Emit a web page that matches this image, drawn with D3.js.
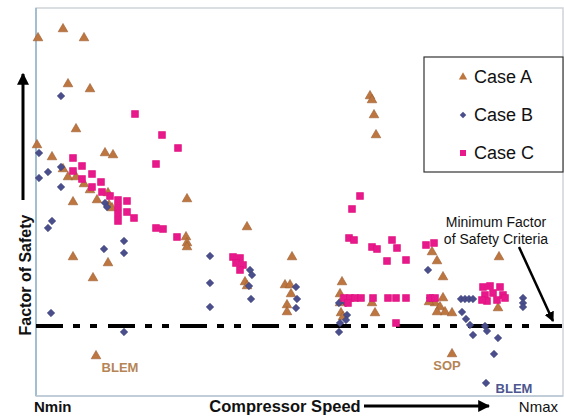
<!DOCTYPE html>
<html>
<head>
<meta charset="utf-8">
<script src="https://cdn.jsdelivr.net/npm/d3@7"></script>
<style>
  body { margin: 0; background: #fff; }
  svg { display: block; font-family: Arial, "Liberation Sans", sans-serif; }
</style>
</head>
<body>
<svg id="chart" width="564" height="418"></svg>
<script>
// Speed in arbitrary units (Nmin = 0, Nmax = 520), factor of safety relative to the criteria (= 1).
const caseA = [
  [2, 3.88], [27, 3.97], [48, 3.88], [32, 3.42], [54, 3.37], [40, 2.97], [1, 2.81],
  [16, 2.69], [69, 2.73], [77, 2.71], [151, 2.27], [27, 2.57], [32, 2.49], [40, 2.49],
  [48, 2.42], [54, 2.36], [61, 2.26], [72, 2.33], [73, 2.21], [76, 2.18], [37, 2.24],
  [150, 1.89], [151, 1.83], [151, 1.79], [37, 1.69], [72, 1.63], [57, 1.48], [60, 0.70],
  [211, 1.99], [209, 1.44], [211, 1.40], [256, 1.69], [249, 1.41], [254, 1.41], [255, 1.32],
  [251, 1.21], [251, 1.14], [334, 3.30], [336, 3.26], [338, 3.11], [340, 2.91], [306, 1.44],
  [304, 1.32], [304, 1.23], [305, 1.13], [307, 1.09], [336, 1.23], [339, 1.13], [396, 1.74],
  [401, 1.65], [407, 1.49], [463, 1.69], [399, 1.23], [407, 1.28], [404, 1.19], [409, 1.14],
  [401, 1.14], [416, 1.13], [393, 1.24], [416, 0.72], [462, 1.18]
];
const caseB = [
  [25, 3.30], [3, 2.73], [3, 2.48], [12, 2.54], [25, 2.59], [25, 2.39], [69, 2.23],
  [71, 2.19], [16, 2.05], [12, 1.98], [88, 1.85], [68, 1.77], [88, 1.73], [15, 1.13],
  [88, 0.94], [174, 1.70], [174, 1.43], [174, 1.19], [214, 1.56], [216, 1.51], [213, 1.40],
  [215, 1.27], [260, 1.39], [261, 1.27], [260, 1.18], [303, 1.23], [310, 1.23], [311, 1.11],
  [310, 1.06], [304, 1.03], [303, 0.94], [394, 1.28], [392, 1.56], [425, 1.27], [429, 1.27],
  [433, 1.27], [437, 1.27], [426, 1.14], [430, 1.07], [434, 1.01], [437, 0.91], [449, 1.00],
  [451, 0.95], [462, 0.88], [458, 0.72], [450, 0.43], [487, 1.28], [487, 1.23], [487, 1.19]
];
const caseC = [
  [99, 3.12], [126, 2.91], [142, 2.78], [120, 2.62], [37, 2.68], [46, 2.60], [37, 2.55],
  [56, 2.52], [46, 2.47], [65, 2.44], [56, 2.39], [66, 2.34], [74, 2.30], [82, 2.26],
  [82, 2.19], [82, 2.12], [82, 2.05], [91, 2.25], [91, 2.14], [98, 2.08], [120, 1.98],
  [127, 1.97], [141, 1.89], [197, 1.69], [204, 1.68], [200, 1.63], [207, 1.61], [204, 1.56],
  [324, 2.30], [316, 2.17], [313, 1.88], [318, 1.86], [336, 1.79], [341, 1.77], [356, 1.86],
  [361, 1.78], [351, 1.65], [370, 1.66], [390, 1.81], [398, 1.83], [308, 1.28], [314, 1.28],
  [319, 1.28], [325, 1.28], [337, 1.28], [352, 1.28], [360, 1.28], [370, 1.28], [394, 1.28],
  [399, 1.28], [360, 1.03], [312, 1.23], [447, 1.39], [454, 1.40], [464, 1.39], [449, 1.31],
  [457, 1.33], [467, 1.31], [451, 1.25], [461, 1.26], [469, 1.28], [446, 1.26]
];
const seriesNames = ['Case A', 'Case B', 'Case C'];
const criteria = 1.0;
// text labels placed at data positions
const notes = [
  {text: 'BLEM', x: 84, y: 0.59, color: '#b58556'},
  {text: 'SOP', x: 411, y: 0.61, color: '#b58556'},
  {text: 'BLEM', x: 478, y: 0.38, color: '#4d5690'}
];

const svg = d3.select('#chart');
const plot = {left: 36, right: 563, top: 8, bottom: 396};

const x = d3.scaleLinear().domain([0, 520]).range([36, 556]);
const y = d3.scaleLinear().domain([0.3, 4.18]).range([plot.bottom, plot.top]);

const styles = [
  {shape: d3.symbolTriangle, size: 40, fill: '#bd7640', stroke: '#9c5c30'},
  {shape: d3.symbolDiamond2, size: 36, fill: '#4a4f8c', stroke: '#3a3f78'},
  {shape: d3.symbolSquare, size: 48, fill: '#e8198a', stroke: '#e0107f'}
];

svg.append('defs').append('marker')
    .attr('id', 'head')
    .attr('viewBox', '0 0 10 10')
    .attr('refX', 9).attr('refY', 5)
    .attr('markerWidth', 4).attr('markerHeight', 4)
    .attr('orient', 'auto')
  .append('path')
    .attr('d', 'M0,0 L10,5 L0,10 Z')
    .attr('fill', '#000');

// frame
svg.append('rect')
    .attr('x', plot.left).attr('y', plot.top)
    .attr('width', plot.right - plot.left).attr('height', plot.bottom - plot.top)
    .attr('fill', 'none').attr('stroke', '#cfd3d8').attr('stroke-width', 1.5);
svg.append('line')
    .attr('x1', plot.left).attr('x2', plot.left)
    .attr('y1', plot.top).attr('y2', plot.bottom)
    .attr('stroke', '#8fb3cc').attr('stroke-width', 1.5);
svg.append('line')
    .attr('x1', plot.left).attr('x2', plot.right)
    .attr('y1', plot.bottom).attr('y2', plot.bottom)
    .attr('stroke', '#b9c9d6').attr('stroke-width', 1.5);

// criteria line
svg.append('line')
    .attr('x1', plot.left).attr('x2', 562)
    .attr('y1', y(criteria)).attr('y2', y(criteria))
    .attr('stroke', '#000').attr('stroke-width', 4)
    .attr('stroke-dasharray', '27,10,7,10,7,11');

// points
[caseA, caseB, caseC].forEach(function(data, i) {
  const st = styles[i];
  svg.append('g').selectAll('path')
      .data(data)
      .join('path')
      .attr('transform', function(d) { return 'translate(' + x(d[0]) + ',' + y(d[1]) + ')'; })
      .attr('d', d3.symbol().type(st.shape).size(st.size))
      .attr('fill', st.fill)
      .attr('stroke', st.stroke)
      .attr('stroke-width', 0.6);
});

// notes
svg.append('g').selectAll('text')
    .data(notes)
    .join('text')
    .attr('x', function(d) { return x(d.x); })
    .attr('y', function(d) { return y(d.y); })
    .attr('text-anchor', 'middle')
    .attr('dominant-baseline', 'central')
    .attr('font-size', 13)
    .attr('font-weight', 'bold')
    .attr('fill', function(d) { return d.color; })
    .text(function(d) { return d.text; });

// legend
const legend = svg.append('g');
legend.append('rect')
    .attr('x', 424).attr('y', 57).attr('width', 139).attr('height', 115)
    .attr('fill', '#fff').attr('stroke', '#333').attr('stroke-width', 1.2);
seriesNames.forEach(function(name, i) {
  const cy = 77 + i * 38;
  legend.append('path')
      .attr('transform', 'translate(463,' + cy + ')')
      .attr('d', d3.symbol().type(styles[i].shape).size(styles[i].size * 0.75))
      .attr('fill', styles[i].fill);
  legend.append('text')
      .attr('x', 474).attr('y', cy)
      .attr('dominant-baseline', 'central')
      .attr('font-size', 18)
      .attr('fill', '#111')
      .text(name);
});

// criteria annotation
svg.append('text')
    .attr('x', 496).attr('y', 222)
    .attr('text-anchor', 'middle').attr('dominant-baseline', 'central')
    .attr('font-size', 14).attr('fill', '#111')
    .text('Minimum Factor');
svg.append('text')
    .attr('x', 496).attr('y', 239)
    .attr('text-anchor', 'middle').attr('dominant-baseline', 'central')
    .attr('font-size', 14).attr('fill', '#111')
    .text('of Safety Criteria');
svg.append('line')
    .attr('x1', 519).attr('y1', 247).attr('x2', 553).attr('y2', 321)
    .attr('stroke', '#000').attr('stroke-width', 2.5)
    .attr('marker-end', 'url(#head)');

// axis titles with arrows
svg.append('text')
    .attr('transform', 'translate(25,275) rotate(-90)')
    .attr('text-anchor', 'middle').attr('dominant-baseline', 'central')
    .attr('font-size', 16).attr('font-weight', 'bold').attr('fill', '#111')
    .text('Factor of Safety');
svg.append('line')
    .attr('x1', 23).attr('y1', 200).attr('x2', 23).attr('y2', 74)
    .attr('stroke', '#000').attr('stroke-width', 3)
    .attr('marker-end', 'url(#head)');

svg.append('text')
    .attr('x', 285).attr('y', 406)
    .attr('text-anchor', 'middle').attr('dominant-baseline', 'central')
    .attr('font-size', 16.5).attr('font-weight', 'bold').attr('fill', '#111')
    .text('Compressor Speed');
svg.append('line')
    .attr('x1', 364).attr('y1', 406).attr('x2', 489).attr('y2', 406)
    .attr('stroke', '#000').attr('stroke-width', 3)
    .attr('marker-end', 'url(#head)');

svg.append('text')
    .attr('x', 34).attr('y', 406)
    .attr('dominant-baseline', 'central')
    .attr('font-size', 15).attr('font-weight', 'bold').attr('fill', '#111')
    .text('Nmin');
svg.append('text')
    .attr('x', 558).attr('y', 406)
    .attr('text-anchor', 'end').attr('dominant-baseline', 'central')
    .attr('font-size', 15).attr('fill', '#111')
    .text('Nmax');
</script>
</body>
</html>
